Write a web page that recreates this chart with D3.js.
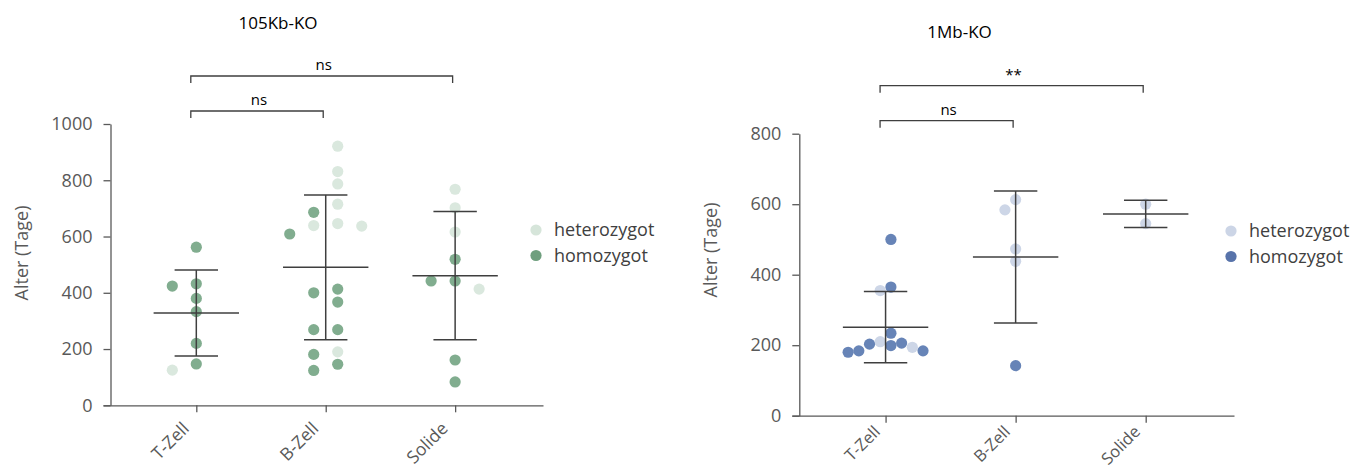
<!DOCTYPE html>
<html>
<head>
<meta charset="utf-8">
<script src="https://cdn.jsdelivr.net/npm/d3@7"></script>
<style>
  body { margin: 0; background: #fff; }
  svg { display: block; font-family: "Open Sans", sans-serif; }
</style>
</head>
<body>
<svg id="chart" width="1367" height="472"></svg>
<script>
const categories = ["T-Zell", "B-Zell", "Solide"];
const genotypes = ["heterozygot", "homozygot"];

// 105Kb-KO, Alter in Tagen je Tumortyp
const kb105Hetero = [[125], [921, 831, 787, 715, 646, 639, 637, 190], [768, 702, 616, 413]];
const kb105Homo = [[562, 432, 424, 380, 333, 220, 147], [686, 609, 413, 400, 367, 269, 269, 181, 146, 124], [519, 442, 442, 161, 83]];
const kb105Ticks = [0, 200, 400, 600, 800, 1000];
const kb105Tests = [["T-Zell", "Solide", "ns"], ["T-Zell", "B-Zell", "ns"]];

// 1Mb-KO
const mb1Hetero = [[355, 210, 194], [613, 584, 473, 438], [600, 545]];
const mb1Homo = [[500, 365, 234, 206, 203, 199, 184, 184, 180], [142], []];
const mb1Ticks = [0, 200, 400, 600, 800];
const mb1Tests = [["T-Zell", "Solide", "**"], ["T-Zell", "B-Zell", "ns"]];

const panels = [
  {
    title: "105Kb-KO", hetero: kb105Hetero, homo: kb105Homo, ticks: kb105Ticks, tests: kb105Tests,
    x0: 110.5, x1: 543, top: 124, bottom: 405.3, lane: 24,
    titleY: 29, legendX: 536, legendY: 230, labelY: 253,
    catShift: "translate(-11,20) rotate(-45)", catSize: "17.5px",
    dot: { heterozygot: "#dae8de", homozygot: "#81ad8f" },
    key: { heterozygot: "#d6e5da", homozygot: "#6f9f7e" }
  },
  {
    title: "1Mb-KO", hetero: mb1Hetero, homo: mb1Homo, ticks: mb1Ticks, tests: mb1Tests,
    x0: 799.3, x1: 1234, top: 133.7, bottom: 415.7, lane: 10.7,
    titleY: 38, legendX: 1231, legendY: 231, labelY: 250,
    // labels sit a little higher here so they stay inside the picture
    catShift: "translate(-9,13) rotate(-45)", catSize: "16.5px",
    dot: { heterozygot: "#cdd6e7", homozygot: "#6784b7" },
    key: { heterozygot: "#ccd5e6", homozygot: "#5873aa" }
  }
];

const svg = d3.select("#chart");
const axisColor = "#595959";
const lineColor = "#3f3f3f";
const r = 5.6;

// simple beeswarm: each point takes the nearest free lane
function swarm(points, y, step) {
  const order = [0, -1, 1, -2, 2, -3, 3, -4, 4, -5, 5, -6, 6];
  const placed = [];
  points.slice().sort((a, b) => b.v - a.v).forEach(p => {
    p.py = y(p.v);
    for (const l of order) {
      if (!placed.some(q => q.lane === l && Math.abs(q.py - p.py) < 2 * r + 0.3)) {
        p.lane = l;
        placed.push(p);
        break;
      }
    }
  });
  const lo = d3.min(placed, d => d.lane), hi = d3.max(placed, d => d.lane);
  const shift = (hi - lo) >= 3 && (hi - lo) % 2 === 1 ? -(lo + hi) / 2 : 0;
  placed.forEach(p => p.dx = (p.lane + shift) * step);
  return placed;
}

panels.forEach(P => {
  const g = svg.append("g");

  const x = d3.scalePoint().domain(categories)
    .range([P.x0 - 7.5, P.x1]).padding(0.7).align(0.515);
  const y = d3.scaleLinear().domain([0, d3.max(P.ticks)]).range([P.bottom, P.top]);

  // axes
  const yAxis = g.append("g")
    .attr("transform", `translate(${P.x0},0)`)
    .call(d3.axisLeft(y).tickValues(P.ticks).tickFormat(d3.format("d"))
      .tickSize(7).tickSizeOuter(0).tickPadding(11));
  const xAxis = g.append("g")
    .attr("transform", `translate(0,${P.bottom})`)
    .call(d3.axisBottom(x).tickSize(7).tickSizeOuter(0));
  [yAxis, xAxis].forEach(a => {
    a.selectAll("path, line").attr("stroke", axisColor).attr("stroke-width", 1.3);
    a.selectAll("text").attr("fill", axisColor).style("font-size", "18px")
      .style("font-family", "'Open Sans', sans-serif");
  });
  xAxis.selectAll("text")
    .style("font-size", P.catSize)
    .attr("text-anchor", "end")
    .attr("x", 0).attr("y", 0).attr("dy", "0.35em")
    .attr("transform", P.catShift);

  // y label
  g.append("text")
    .attr("transform", `translate(${P.x0 - 89},${P.labelY}) rotate(-90)`)
    .attr("text-anchor", "middle").attr("dy", "0.35em")
    .attr("fill", axisColor).style("font-size", "18px")
    .text("Alter (Tage)");

  // title
  g.append("text")
    .attr("x", P.x0 + 128).attr("y", P.titleY)
    .attr("fill", "#000").style("font-size", "17px")
    .text(P.title);

  // points + mean ± SD
  categories.forEach((c, i) => {
    const pts = P.hetero[i].map(v => ({ v, gt: "heterozygot" }))
      .concat(P.homo[i].map(v => ({ v, gt: "homozygot" })));
    const placed = swarm(pts, y, P.lane);
    const cx = x(c);
    g.append("g").selectAll("circle").data(placed).join("circle")
      .attr("cx", d => cx + d.dx).attr("cy", d => d.py).attr("r", r)
      .attr("fill", d => P.dot[d.gt]);

    const vals = pts.map(d => d.v);
    const m = d3.mean(vals), sd = d3.deviation(vals);
    const eb = g.append("g").attr("stroke", lineColor).attr("stroke-width", 1.5);
    eb.append("line").attr("x1", cx).attr("x2", cx).attr("y1", y(m + sd)).attr("y2", y(m - sd));
    [m + sd, m - sd].forEach(v => eb.append("line")
      .attr("x1", cx - 21.7).attr("x2", cx + 21.7).attr("y1", y(v)).attr("y2", y(v)));
    eb.append("line").attr("x1", cx - 42.7).attr("x2", cx + 42.7).attr("y1", y(m)).attr("y2", y(m));
  });

  // significance brackets
  P.tests.forEach((t, k) => {
    const by = P.top - 48 + k * 35;
    const xa = x(t[0]) - 5.5, xb = x(t[1]) - 2.5;
    g.append("path")
      .attr("d", `M${xa},${by + 7}V${by}H${xb}V${by + 7}`)
      .attr("fill", "none").attr("stroke", lineColor).attr("stroke-width", 1.3);
    g.append("text")
      .attr("x", (xa + xb) / 2 + 2).attr("y", by - 6)
      .attr("text-anchor", "middle").attr("fill", "#000").style("font-size", "15px")
      .text(t[2]);
  });

  // legend
  const lg = g.append("g").attr("transform", `translate(${P.legendX},${P.legendY})`);
  genotypes.forEach((gt, k) => {
    lg.append("circle").attr("cx", 0).attr("cy", k * 25.5).attr("r", r).attr("fill", P.key[gt]);
    lg.append("text").attr("x", 18).attr("y", k * 25.5).attr("dy", "0.36em")
      .attr("fill", "#404040").style("font-size", "18px").text(gt);
  });
});
</script>
</body>
</html>
